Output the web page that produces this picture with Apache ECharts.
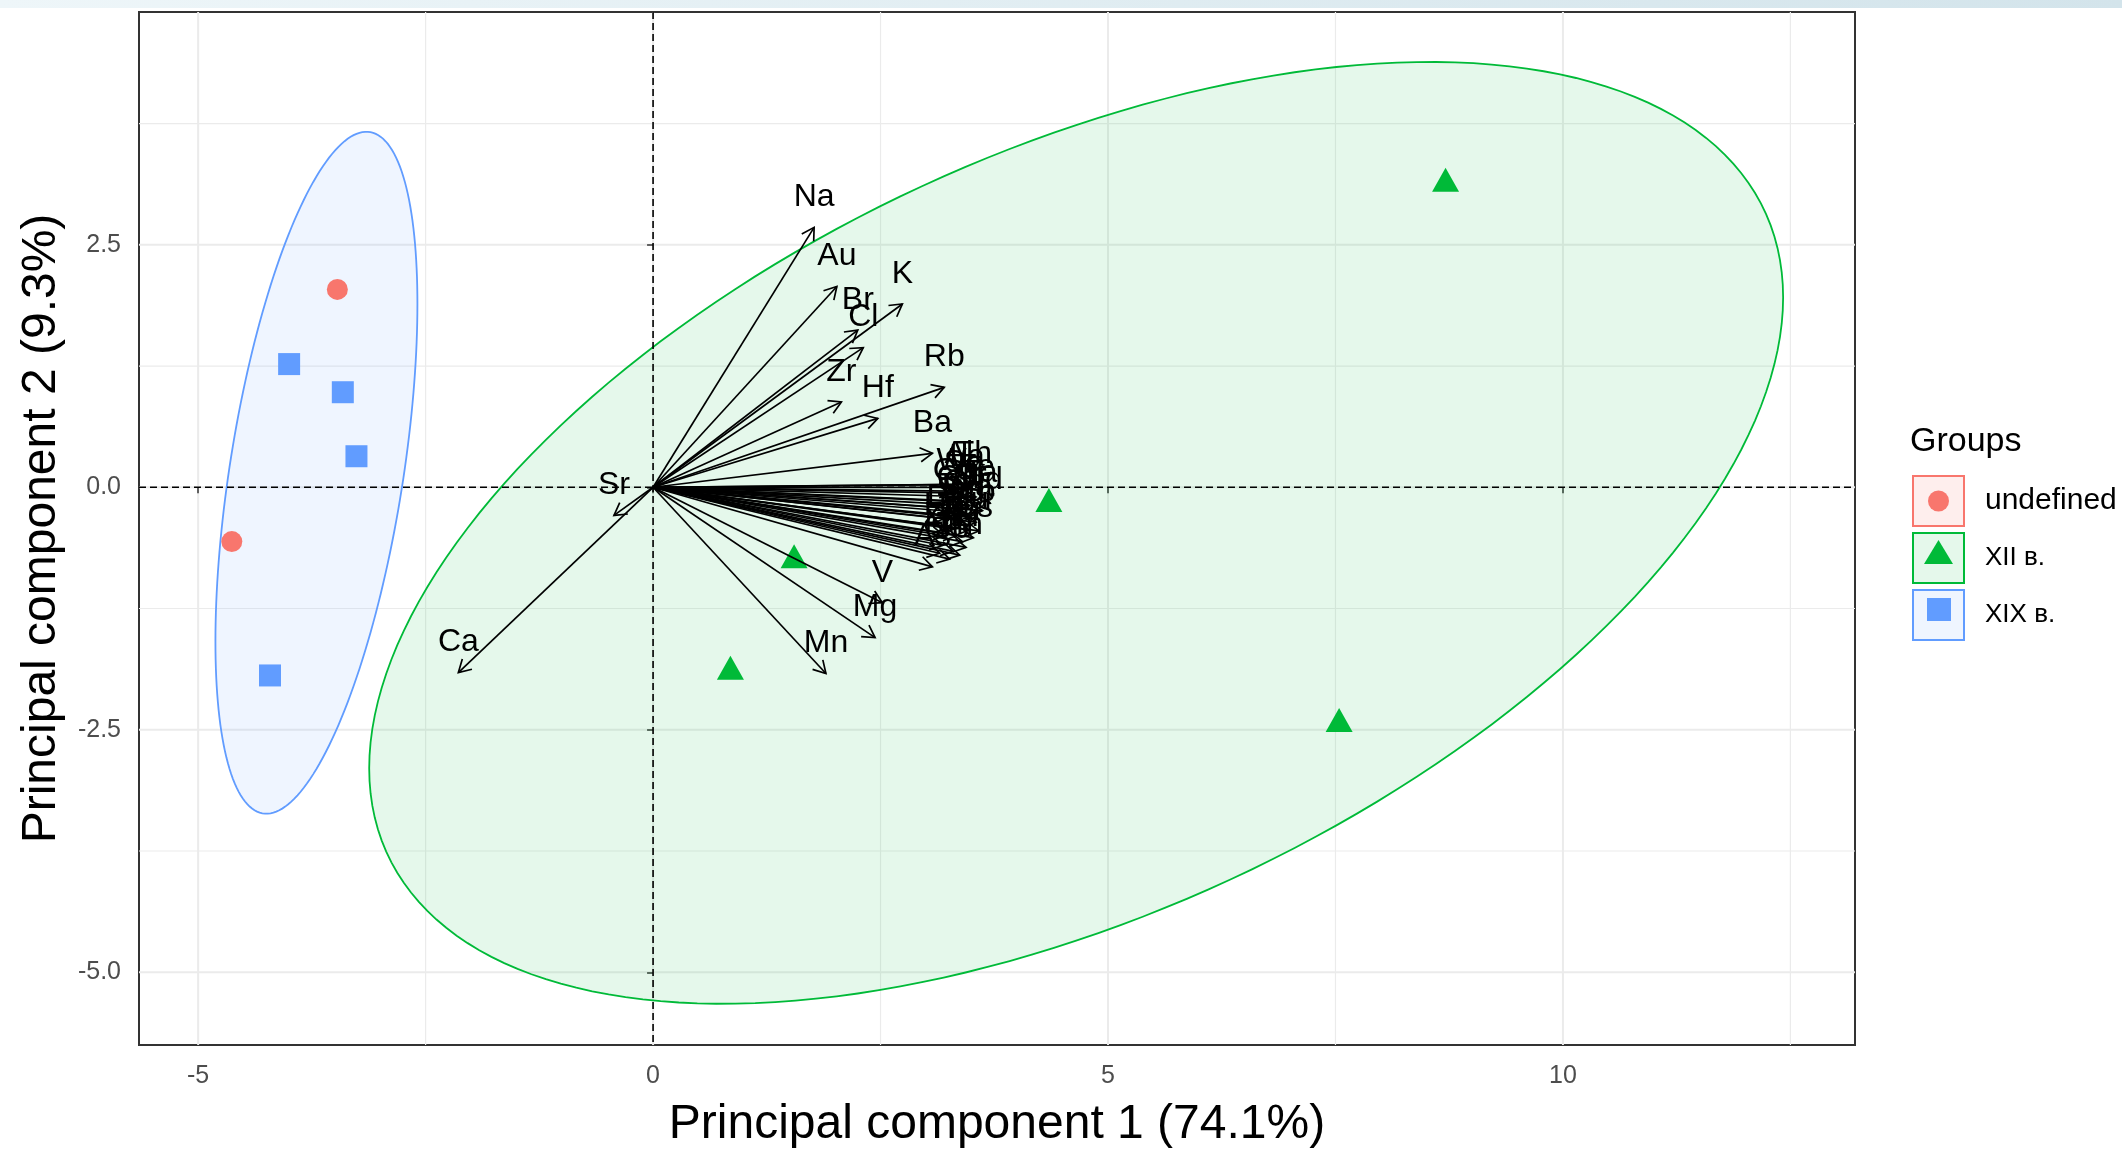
<!DOCTYPE html>
<html>
<head>
<meta charset="utf-8">
<script src="https://cdn.jsdelivr.net/npm/echarts@6/dist/echarts.min.js"></script>
<style>
html, body { margin: 0; padding: 0; background: #fff; }
#chart { width: 2122px; height: 1155px; }
</style>
</head>
<body>
<div id="chart"></div>
<script>
// groups
var groupNames = ['undefined', 'XII в.', 'XIX в.'];
var groupColors = ['#F8766D', '#00BA38', '#619CFF'];
var groupFills = ['#FEEEED', '#E5F8EB', '#EFF5FF'];

// individuals (PC1, PC2)
var undefPC1 = [-3.47, -4.63];
var undefPC2 = [2.04, -0.56];
var xiiPC1 = [8.71, 4.35, 1.55, 0.85, 7.54];
var xiiPC2 = [3.17, -0.13, -0.71, -1.86, -2.40];
var xixPC1 = [-4.00, -3.41, -3.26, -4.21];
var xixPC2 = [1.27, 0.98, 0.32, -1.94];

// variables (arrows)
var varNames = ['Na', 'Au', 'K', 'Br', 'Cl', 'Zr', 'Hf', 'Rb', 'Ba', 'Sr', 'Ca', 'V', 'Mg', 'Mn', 'As',
  'Al', 'Th', 'La', 'Sc', 'Fe', 'Co', 'Cr', 'Ta', 'Ce', 'Nd', 'Ti', 'Sm', 'Yb', 'Dy', 'Eu', 'Tb', 'Lu', 'Cs', 'Zn', 'U', 'Sb',
  'W', 'Ga', 'Gd', 'Er', 'Ho', 'Pr', 'Tm', 'Ni'];
var varPC1 = [1.77, 2.02, 2.74, 2.25, 2.31, 2.07, 2.47, 3.20, 3.07, -0.43, -2.14, 2.52, 2.44, 1.90, 3.07,
  3.36, 3.52, 3.45, 3.40, 3.55, 3.30, 3.48, 3.60, 3.42, 3.62, 3.25, 3.38, 3.55, 3.22, 3.47, 3.33, 3.40, 3.52, 3.18, 3.30, 3.26,
  3.28, 3.50, 3.35, 3.44, 3.20, 3.58, 3.37, 3.15];
var varPC2 = [2.68, 2.07, 1.89, 1.62, 1.44, 0.88, 0.71, 1.03, 0.35, -0.29, -1.91, -1.19, -1.55, -1.92, -0.82,
  0.03, 0.03, 0.00, -0.06, -0.10, -0.14, -0.19, -0.16, -0.26, -0.24, -0.30, -0.34, -0.36, -0.42, -0.44, -0.50, -0.56, -0.52, -0.60, -0.66, -0.74,
  -0.04, -0.31, -0.22, -0.62, -0.50, -0.45, -0.70, -0.68];

// confidence ellipses: centre, spread, correlation
var ellGroup = [1, 2];
var ellCX = [4.65, -3.70];
var ellCY = [-0.47, 0.15];
var ellSX = [7.77, 1.11];
var ellSY = [4.855, 3.515];
var ellRho = [0.50, 0.495];

// axes
var xTicks = [-5, 0, 5, 10];
var yTicks = [-5, -2.5, 0, 2.5];
var xMinor = [-2.5, 2.5, 7.5, 12.5];
var yMinor = [-3.75, -1.25, 1.25, 3.75];

var FONT = 'Liberation Sans, Arial, sans-serif';

function zip(a, b) {
  return a.map(function (v, i) { return [v, b[i]]; });
}

function vLines(color, width, dash) {
  return function (params, api) {
    var cs = params.coordSys;
    var x = api.coord([api.value(0), 0])[0];
    return { type: 'line', shape: { x1: x, y1: cs.y, x2: x, y2: cs.y + cs.height },
      style: { stroke: color, lineWidth: width, lineDash: dash } };
  };
}
function hLines(color, width, dash) {
  return function (params, api) {
    var cs = params.coordSys;
    var y = api.coord([0, api.value(1)])[1];
    return { type: 'line', shape: { x1: cs.x, y1: y, x2: cs.x + cs.width, y2: y },
      style: { stroke: color, lineWidth: width, lineDash: dash } };
  };
}

function ellipseRenderer(color) {
  return function (params, api) {
    var cx = api.value(0), cy = api.value(1), sx = api.value(2), sy = api.value(3), r = api.value(4);
    var pts = [];
    for (var i = 0; i < 200; i++) {
      var t = i / 200 * Math.PI * 2;
      pts.push(api.coord([cx + sx * Math.cos(t),
        cy + sy * (r * Math.cos(t) + Math.sqrt(1 - r * r) * Math.sin(t))]));
    }
    return { type: 'polygon', shape: { points: pts },
      style: { fill: echarts.color.modifyAlpha(color, 0.1), stroke: color, lineWidth: 1.8 } };
  };
}

function renderArrow(params, api) {
  var o = api.coord([0, 0]);
  var t = api.coord([api.value(0), api.value(1)]);
  var ang = Math.atan2(t[1] - o[1], t[0] - o[0]);
  var L = 14, a = Math.PI / 6;
  var p1 = [t[0] - L * Math.cos(ang - a), t[1] - L * Math.sin(ang - a)];
  var p2 = [t[0] - L * Math.cos(ang + a), t[1] - L * Math.sin(ang + a)];
  return {
    type: 'group',
    children: [
      { type: 'line', shape: { x1: o[0], y1: o[1], x2: t[0], y2: t[1] },
        style: { stroke: '#000', lineWidth: 1.7 } },
      { type: 'polyline', shape: { points: [p1, t, p2] },
        style: { stroke: '#000', lineWidth: 1.7, fill: null } }
    ]
  };
}

function renderVarLabel(params, api) {
  var t = api.coord([api.value(0), api.value(1)]);
  return { type: 'text', style: { text: varNames[params.dataIndex], x: t[0], y: t[1] - 30,
    align: 'center', verticalAlign: 'middle', fontSize: 32, fontFamily: FONT, fill: '#000' } };
}

var chart = echarts.init(document.getElementById('chart'));

var series = [
  { type: 'custom', silent: true, z: 0, renderItem: vLines('#EBEBEB', 1.2),
    data: xMinor.map(function (v) { return [v, 0]; }) },
  { type: 'custom', silent: true, z: 0, renderItem: hLines('#EBEBEB', 1.2),
    data: yMinor.map(function (v) { return [0, v]; }) },
  { type: 'custom', silent: true, z: 0, renderItem: vLines('#EBEBEB', 2),
    data: xTicks.map(function (v) { return [v, 0]; }) },
  { type: 'custom', silent: true, z: 0, renderItem: hLines('#EBEBEB', 2),
    data: yTicks.map(function (v) { return [0, v]; }) }
];

ellGroup.forEach(function (g, i) {
  series.push({ type: 'custom', name: groupNames[g], silent: true, z: 1,
    renderItem: ellipseRenderer(groupColors[g]),
    encode: { x: 0, y: 1 },
    data: [[ellCX[i], ellCY[i], ellSX[i], ellSY[i], ellRho[i]]] });
});

series.push(
  { type: 'custom', silent: true, z: 2, renderItem: vLines('#000', 1.6, [7, 4]), data: [[0, 0]] },
  { type: 'custom', silent: true, z: 2, renderItem: hLines('#000', 1.6, [7, 4]), data: [[0, 0]] },
  { type: 'scatter', name: groupNames[0], z: 3, symbol: 'circle', symbolSize: 21,
    itemStyle: { color: groupColors[0], opacity: 1 }, data: zip(undefPC1, undefPC2) },
  { type: 'scatter', name: groupNames[1], z: 3, symbol: 'triangle', symbolSize: [27, 24],
    itemStyle: { color: groupColors[1], opacity: 1 }, data: zip(xiiPC1, xiiPC2) },
  { type: 'scatter', name: groupNames[2], z: 3, symbol: 'rect', symbolSize: 22,
    itemStyle: { color: groupColors[2], opacity: 1 }, data: zip(xixPC1, xixPC2) },
  { type: 'custom', silent: true, z: 4, renderItem: renderArrow, data: zip(varPC1, varPC2) },
  { type: 'custom', silent: true, z: 5, renderItem: renderVarLabel, data: zip(varPC1, varPC2) }
);

chart.setOption({
  animation: false,
  backgroundColor: '#fff',
  grid: { left: 139, right: 267, top: 12, bottom: 110, show: true,
    backgroundColor: '#fff', borderColor: '#333', borderWidth: 2 },
  xAxis: {
    type: 'value', min: -5.65, max: 13.21,
    name: 'Principal component 1 (74.1%)', nameLocation: 'middle', nameGap: 56,
    nameTextStyle: { fontSize: 48, color: '#000', fontFamily: FONT },
    axisLine: { show: false },
    splitLine: { show: false },
    axisTick: { show: true, customValues: xTicks, length: 6, lineStyle: { color: '#333', width: 1.5 } },
    axisLabel: { customValues: xTicks, margin: 19, fontSize: 25, color: '#4D4D4D', fontFamily: FONT }
  },
  yAxis: {
    type: 'value', min: -5.75, max: 4.90,
    name: 'Principal component 2 (9.3%)', nameLocation: 'middle', nameGap: 73,
    nameTextStyle: { fontSize: 48, color: '#000', fontFamily: FONT },
    axisLine: { show: false },
    splitLine: { show: false },
    axisTick: { show: true, customValues: yTicks, length: 6, lineStyle: { color: '#333', width: 1.5 } },
    axisLabel: { customValues: yTicks, margin: 18, fontSize: 25, color: '#4D4D4D', fontFamily: FONT,
      formatter: function (v) { return v.toFixed(1); } }
  },
  legend: {
    orient: 'vertical', left: 1912, top: 475, padding: 0,
    itemWidth: 51, itemHeight: 50, itemGap: 5,
    selectedMode: false,
    textStyle: { fontSize: 30, color: '#000', fontFamily: FONT, padding: [0, 0, 0, 16] },
    data: groupNames.map(function (g, i) {
      return { name: g, icon: 'rect',
        itemStyle: { color: groupFills[i], borderColor: groupColors[i], borderWidth: 2 },
        textStyle: { fontSize: i === 0 ? 30 : 26 } };
    })
  },
  graphic: [
    { type: 'rect', left: 0, top: 0, z: 100, shape: { width: 2122, height: 8 },
      style: { fill: new echarts.graphic.LinearGradient(0, 0, 1, 0, [
        { offset: 0, color: '#EEF6F9' }, { offset: 1, color: '#D3E4EB' }]) } },
    { type: 'text', z: 100, style: { text: 'Groups', x: 1910, y: 442, verticalAlign: 'middle',
      fontSize: 34, fontFamily: FONT, fill: '#000' } },
    { type: 'circle', z: 100, shape: { cx: 1938.5, cy: 501, r: 10.5 }, style: { fill: groupColors[0] } },
    { type: 'polygon', z: 100, shape: { points: [[1924, 564], [1953, 564], [1938.5, 540]] },
      style: { fill: groupColors[1] } },
    { type: 'rect', z: 100, shape: { x: 1927, y: 598, width: 24, height: 23 }, style: { fill: groupColors[2] } }
  ],
  series: series
});
</script>
</body>
</html>
